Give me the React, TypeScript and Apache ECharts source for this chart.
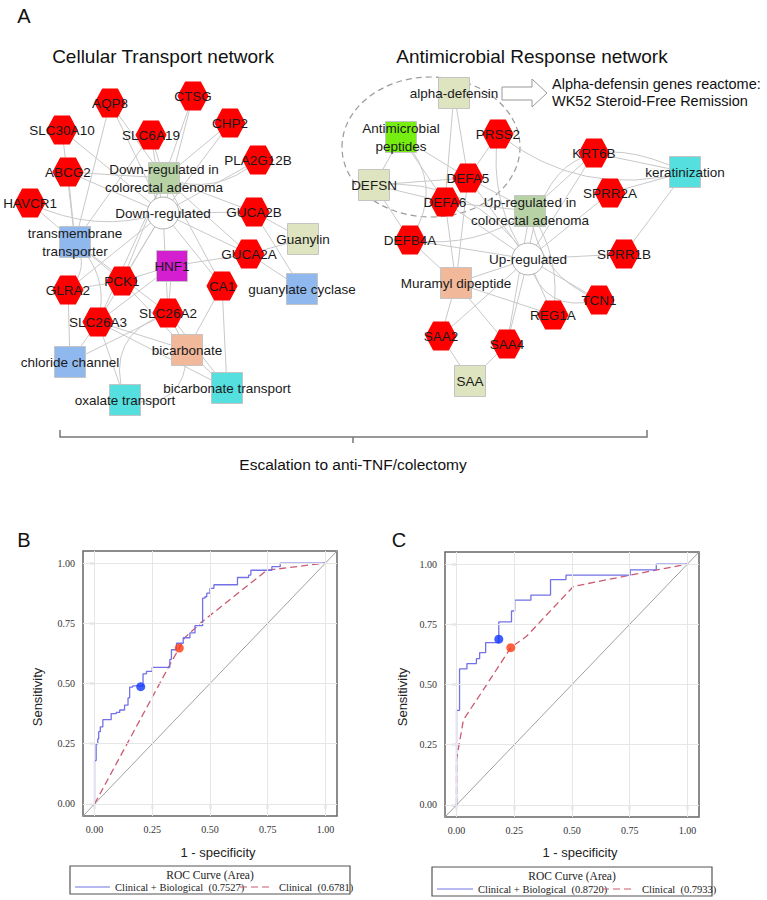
import React, { useEffect, useRef } from "react";
import * as echarts from "echarts";

// ---------- Panel A: networks ----------
const nodeNames = [
  // Cellular transport network
  "AQP8", "CTSG", "SLC30A10", "SLC6A19", "CHP2", "PLA2G12B", "ABCG2",
  "DownAdenoma", "HAVCR1", "Down", "GUCA2B", "Transmembrane", "Guanylin",
  "HNF1", "GUCA2A", "PCK1", "GLRA2", "CA1", "GuanylateCyclase", "SLC26A3",
  "SLC26A2", "Bicarbonate", "ChlorideChannel", "BicarbonateTransport", "Oxalate",
  // Antimicrobial response network
  "AlphaDefensin", "AMP", "PRSS2", "KRT6B", "Keratinization", "DEFSN", "DEFA5",
  "SPRR2A", "DEFA6", "UpAdenoma", "DEFB4A", "Up", "SPRR1B", "Muramyl", "TCN1",
  "REG1A", "SAA2", "SAA4", "SAA",
];
const nodeLabels = [
  "AQP8", "CTSG", "SLC30A10", "SLC6A19", "CHP2", "PLA2G12B", "ABCG2",
  "Down-regulated in\ncolorectal adenoma", "HAVCR1", "Down-regulated", "GUCA2B",
  "transmembrane\ntransporter", "Guanylin", "HNF1", "GUCA2A", "PCK1", "GLRA2", "CA1",
  "guanylate cyclase", "SLC26A3", "SLC26A2", "bicarbonate", "chloride channel",
  "bicarbonate transport", "oxalate transport",
  "alpha-defensin", "Antimicrobial\npeptides", "PRSS2", "KRT6B", "keratinization",
  "DEFSN", "DEFA5", "SPRR2A", "DEFA6", "Up-regulated in\ncolorectal adenoma", "DEFB4A",
  "Up-regulated", "SPRR1B", "Muramyl dipeptide", "TCN1", "REG1A", "SAA2", "SAA4", "SAA",
];
const nodeX = [
  110, 193, 62, 151, 230, 258, 68, 164, 30, 163, 254, 75, 303, 172, 249, 122, 68, 222,
  302, 98, 168, 187, 70, 227, 125,
  454, 401, 498, 594, 685, 374, 468, 610, 445, 530, 410, 528, 624, 456, 599, 553, 441,
  507, 470,
];
const nodeY = [
  103, 96, 130, 135, 123, 160, 172, 178, 203, 213, 212, 242, 239, 266, 254, 281, 290, 286,
  289, 322, 313, 350, 362, 388, 400,
  93, 137, 134, 153, 172, 185, 178, 193, 202, 211, 240, 259, 254, 283, 300, 315, 336,
  344, 381,
];
const nodeKind = [
  "gene", "gene", "gene", "gene", "gene", "gene", "gene", "adenoma", "gene", "hub", "gene",
  "function", "family", "tf", "gene", "gene", "gene", "gene", "function", "gene", "gene",
  "metabolite", "function", "process", "process",
  "family", "amp", "gene", "gene", "process", "family", "gene", "gene", "gene", "adenoma",
  "gene", "hub", "gene", "metabolite", "gene", "gene", "gene", "gene", "family",
];
// [source, target, curveness]
const edges: [string, string, number][] = [
  ["Down", "AQP8", 0], ["Down", "CTSG", 0], ["Down", "SLC6A19", 0], ["Down", "CHP2", 0],
  ["Down", "PLA2G12B", 0], ["Down", "GUCA2B", 0], ["Down", "GUCA2A", 0], ["Down", "CA1", 0],
  ["Down", "SLC26A2", 0], ["Down", "SLC26A3", 0], ["Down", "PCK1", 0], ["Down", "GLRA2", 0],
  ["Down", "ABCG2", 0], ["Down", "SLC30A10", 0], ["Down", "HAVCR1", 0.2],
  ["DownAdenoma", "AQP8", 0], ["DownAdenoma", "CTSG", 0], ["DownAdenoma", "SLC6A19", 0],
  ["DownAdenoma", "CHP2", 0], ["DownAdenoma", "ABCG2", 0], ["DownAdenoma", "GUCA2B", 0],
  ["DownAdenoma", "GUCA2A", 0], ["DownAdenoma", "SLC26A3", 0], ["DownAdenoma", "PCK1", 0],
  ["DownAdenoma", "CA1", 0], ["DownAdenoma", "PLA2G12B", -0.3],
  ["Transmembrane", "SLC30A10", 0], ["Transmembrane", "ABCG2", 0], ["Transmembrane", "HAVCR1", 0],
  ["Transmembrane", "AQP8", 0], ["Transmembrane", "SLC6A19", 0], ["Transmembrane", "SLC26A3", 0.3],
  ["Transmembrane", "SLC26A2", 0], ["Transmembrane", "PCK1", 0], ["Transmembrane", "GLRA2", 0.4],
  ["HNF1", "PCK1", 0], ["HNF1", "GUCA2A", 0], ["HNF1", "SLC26A2", 0], ["PCK1", "GLRA2", 0],
  ["HNF1", "SLC26A3", 0],
  ["Guanylin", "GUCA2B", 0], ["Guanylin", "GUCA2A", 0],
  ["GuanylateCyclase", "GUCA2B", 0], ["GuanylateCyclase", "GUCA2A", 0],
  ["Bicarbonate", "SLC26A3", 0], ["Bicarbonate", "SLC26A2", 0], ["Bicarbonate", "CA1", 0],
  ["Bicarbonate", "PCK1", 0],
  ["BicarbonateTransport", "CA1", 0], ["BicarbonateTransport", "Bicarbonate", 0],
  ["BicarbonateTransport", "SLC26A3", 0], ["BicarbonateTransport", "SLC26A2", 0],
  ["ChlorideChannel", "GLRA2", 0], ["ChlorideChannel", "SLC26A3", 0], ["ChlorideChannel", "SLC26A2", 0],
  ["Oxalate", "SLC26A3", 0], ["Oxalate", "SLC26A2", 0.5], ["Oxalate", "Bicarbonate", -0.6],
  ["Up", "DEFA5", 0], ["Up", "DEFA6", 0], ["Up", "DEFB4A", 0], ["Up", "PRSS2", 0.2],
  ["Up", "KRT6B", 0], ["Up", "SPRR2A", 0], ["Up", "SPRR1B", 0], ["Up", "TCN1", 0],
  ["Up", "REG1A", 0], ["Up", "SAA2", 0], ["Up", "SAA4", 0], ["Up", "Muramyl", 0],
  ["Up", "DEFSN", -0.3], ["Up", "TCN1", -0.5],
  ["UpAdenoma", "DEFA5", 0], ["UpAdenoma", "DEFA6", 0], ["UpAdenoma", "KRT6B", 0],
  ["UpAdenoma", "REG1A", 0.2], ["UpAdenoma", "TCN1", -0.3], ["UpAdenoma", "SAA4", 0],
  ["UpAdenoma", "DEFB4A", 0.2],
  ["AlphaDefensin", "DEFA5", 0], ["AlphaDefensin", "DEFA6", 0],
  ["AMP", "DEFA5", 0], ["AMP", "DEFA6", 0], ["AMP", "DEFSN", 0], ["AMP", "DEFB4A", 0.4],
  ["DEFSN", "DEFA5", 0], ["DEFSN", "DEFA6", 0], ["DEFSN", "DEFB4A", 0],
  ["Keratinization", "KRT6B", 0], ["Keratinization", "SPRR2A", 0], ["Keratinization", "SPRR1B", 0],
  ["PRSS2", "Keratinization", -0.25], ["Up", "Keratinization", 0.7],
  ["Muramyl", "DEFA5", 0], ["Muramyl", "DEFA6", 0], ["Muramyl", "DEFB4A", 0],
  ["Muramyl", "SAA2", 0], ["Muramyl", "SAA4", 0], ["Muramyl", "REG1A", 0],
  ["SAA", "SAA2", 0], ["SAA", "SAA4", 0], ["PRSS2", "DEFA5", 0],
];

// ---------- Panels B & C: ROC curves ----------
const rocTicks = [0, 0.25, 0.5, 0.75, 1.0];
const bBlueFpr = [0, 0, 0.007, 0.014, 0.018, 0.025, 0.036, 0.072, 0.094, 0.109, 0.13, 0.145, 0.152,
  0.165, 0.21, 0.225, 0.25, 0.326, 0.333, 0.355, 0.384, 0.413, 0.435, 0.468, 0.478, 0.486, 0.5,
  0.517, 0.619, 0.667, 0.677, 0.768, 0.804, 1];
const bBlueTpr = [0, 0.18, 0.25, 0.27, 0.3, 0.32, 0.35, 0.375, 0.38, 0.39, 0.41, 0.44, 0.485,
  0.49, 0.54, 0.55, 0.567, 0.6, 0.64, 0.667, 0.69, 0.71, 0.74, 0.854, 0.86, 0.875, 0.895,
  0.91, 0.94, 0.95, 0.97, 0.985, 1.0, 1.0];
const bRedFpr = [0, 0.33, 0.367, 0.39, 0.464, 0.746, 1];
const bRedTpr = [0, 0.585, 0.647, 0.69, 0.755, 0.97, 1];
const bBluePoint = [0.2, 0.487];
const bRedPoint = [0.367, 0.647];
const bLegend = ["Clinical + Biological  (0.7527)", "Clinical  (0.6781)"];

const cBlueFpr = [0, 0, 0.013, 0.045, 0.086, 0.1, 0.126, 0.183, 0.238, 0.252, 0.322, 0.407,
  0.474, 0.752, 0.865, 1];
const cBlueTpr = [0, 0.393, 0.565, 0.587, 0.607, 0.632, 0.674, 0.76, 0.805, 0.85, 0.871,
  0.935, 0.954, 0.976, 1.0, 1.0];
const cRedFpr = [0, 0, 0.03, 0.107, 0.235, 0.303, 0.506, 0.752, 1];
const cRedTpr = [0, 0.19, 0.354, 0.465, 0.653, 0.7, 0.907, 0.954, 1];
const cBluePoint = [0.183, 0.688];
const cRedPoint = [0.235, 0.653];
const cLegend = ["Clinical + Biological  (0.8720)", "Clinical  (0.7933)"];

const SANS = "Liberation Sans, Arial, sans-serif";
const SERIF = "Liberation Serif, Times New Roman, serif";
const HEX = "path://M0,50 L25,6 L75,6 L100,50 L75,94 L25,94 Z";
const BLUE = "#7272e6";
const RED = "#cc5a70";

const kindStyle: Record<string, any> = {
  gene: { symbol: HEX, size: [30, 28], color: "#ff0000", border: "#ff0000" },
  hub: { symbol: "circle", size: 32, color: "#ffffff", border: "#b5b5b5" },
  adenoma: { symbol: "rect", size: 31, color: "#b7d3a6", border: "#c4c4c4" },
  function: { symbol: "rect", size: 31, color: "#8fb8ee", border: "#c4c4c4" },
  family: { symbol: "rect", size: 31, color: "#dde4bf", border: "#c4c4c4" },
  tf: { symbol: "rect", size: 31, color: "#d41fd0", border: "#c4c4c4" },
  metabolite: { symbol: "rect", size: 31, color: "#f2b89a", border: "#c4c4c4" },
  process: { symbol: "rect", size: 31, color: "#55dfdf", border: "#c4c4c4" },
  amp: { symbol: "rect", size: 31, color: "#77ee11", border: "#c4c4c4" },
};

const zip = (a: number[], b: number[]) => a.map((v, i) => [v, b[i]]);

function rocAxes(grid: number) {
  return {
    gridIndex: grid,
    type: "value",
    min: -0.05,
    max: 1.05,
    axisLine: { show: false },
    axisTick: { show: true, customValues: rocTicks, length: 5, lineStyle: { color: "#555", width: 1.2 } },
    axisLabel: {
      customValues: rocTicks,
      formatter: (v: number) => v.toFixed(2),
      fontFamily: SERIF,
      fontSize: 10,
      color: "#333",
      margin: 8,
    },
    splitLine: { show: false },
  };
}

function rocSeries(axis: number, blueF: number[], blueT: number[], redF: number[], redT: number[], bp: number[], rp: number[]) {
  return [
    {
      type: "line",
      xAxisIndex: axis,
      yAxisIndex: axis,
      data: [[-0.05, -0.05], [1.05, 1.05]],
      symbol: "none",
      lineStyle: { color: "#a0a0a0", width: 1 },
      z: 1,
      silent: true,
      markLine: {
        silent: true,
        symbol: ["none", "none"],
        label: { show: false },
        lineStyle: { color: "#e6e6e6", type: "solid", width: 1 },
        data: [...rocTicks.map((t) => ({ xAxis: t })), ...rocTicks.map((t) => ({ yAxis: t }))],
      },
    },
    {
      type: "line",
      xAxisIndex: axis,
      yAxisIndex: axis,
      data: zip(redF, redT),
      symbol: "none",
      lineStyle: { color: RED, width: 1.3, type: [7, 4] },
      z: 3,
    },
    {
      type: "line",
      xAxisIndex: axis,
      yAxisIndex: axis,
      data: zip(blueF, blueT),
      step: "end",
      symbol: "none",
      lineStyle: { color: BLUE, width: 1.3 },
      z: 4,
    },
    {
      type: "scatter",
      xAxisIndex: axis,
      yAxisIndex: axis,
      data: [bp],
      symbolSize: 9,
      itemStyle: { color: "#1034ff" },
      z: 5,
    },
    {
      type: "scatter",
      xAxisIndex: axis,
      yAxisIndex: axis,
      data: [rp],
      symbolSize: 9,
      itemStyle: { color: "#ff3a12" },
      z: 5,
    },
  ];
}

function text(x: number, y: number, t: string, size: number, extra: any = {}, rotation = 0) {
  return {
    type: "text",
    x,
    y,
    rotation,
    silent: true,
    style: {
      text: t,
      fontSize: size,
      fontFamily: SANS,
      fill: "#111",
      align: "center",
      verticalAlign: "middle",
      ...extra,
    },
  };
}

function legend(x: number, y: number, w: number, h: number, cx: number, rowY: number, l: number[], labels: string[]) {
  return [
    { type: "rect", shape: { x, y, width: w, height: h }, style: { fill: "#fff", stroke: "#555", lineWidth: 1.2 }, silent: true },
    text(cx, y + 9, "ROC Curve (Area)", 11.5, { fontFamily: SERIF, fill: "#222" }),
    { type: "line", shape: { x1: l[0], y1: rowY, x2: l[1], y2: rowY }, style: { stroke: BLUE, lineWidth: 1.2 }, silent: true },
    text(l[2], rowY, labels[0], 10.5, { fontFamily: SERIF, fill: "#222", align: "left" }),
    { type: "line", shape: { x1: l[3], y1: rowY, x2: l[4], y2: rowY }, style: { stroke: RED, lineWidth: 1.2, lineDash: [7, 4] }, silent: true },
    text(l[5], rowY, labels[1], 10.5, { fontFamily: SERIF, fill: "#222", align: "left" }),
  ];
}

export default function App() {
  const ref = useRef<HTMLDivElement>(null);
  useEffect(() => {
    if (!ref.current) return;
    const chart = echarts.init(ref.current, null, { renderer: "svg" });

    const graphData = nodeNames.map((n, i) => {
      const k = kindStyle[nodeKind[i]];
      return {
        name: n,
        value: [nodeX[i], nodeY[i]],
        symbol: k.symbol,
        symbolSize: k.size,
        itemStyle: { color: k.color, borderColor: k.border, borderWidth: 1 },
        label: { formatter: nodeLabels[i] },
      };
    });
    const graphLinks = edges.map(([s, t, c]) => ({ source: s, target: t, lineStyle: { curveness: c } }));

    const option: any = {
      animation: false,
      backgroundColor: "#ffffff",
      grid: [
        { left: 0, top: 0, width: 767, height: 900, show: false },
        { left: 83, top: 551, width: 254, height: 265, show: true, borderColor: "#666", borderWidth: 1.5 },
        { left: 445, top: 552, width: 254, height: 265, show: true, borderColor: "#666", borderWidth: 1.5 },
      ],
      xAxis: [
        { gridIndex: 0, type: "value", min: 0, max: 767, show: false },
        rocAxes(1),
        rocAxes(2),
      ],
      yAxis: [
        { gridIndex: 0, type: "value", min: 0, max: 900, inverse: true, show: false },
        rocAxes(1),
        rocAxes(2),
      ],
      series: [
        {
          type: "graph",
          coordinateSystem: "cartesian2d",
          xAxisIndex: 0,
          yAxisIndex: 0,
          layout: "none",
          data: graphData,
          links: graphLinks,
          lineStyle: { color: "#c9c9c9", width: 1, opacity: 1 },
          label: {
            show: true,
            position: "inside",
            fontSize: 13.5,
            fontFamily: SANS,
            color: "#1a1a1a",
            lineHeight: 18,
          },
          emphasis: { disabled: true },
          silent: true,
          z: 2,
        },
        ...rocSeries(1, bBlueFpr, bBlueTpr, bRedFpr, bRedTpr, bBluePoint, bRedPoint),
        ...rocSeries(2, cBlueFpr, cBlueTpr, cRedFpr, cRedTpr, cBluePoint, cRedPoint),
      ],
      graphic: [
        text(24, 16, "A", 20),
        text(163, 56, "Cellular Transport network", 19),
        text(532, 56, "Antimicrobial Response network", 19),
        {
          type: "ellipse",
          shape: { cx: 431, cy: 147, rx: 89, ry: 70 },
          style: { fill: "none", stroke: "#9a9a9a", lineWidth: 1.2, lineDash: [6, 4] },
          silent: true,
        },
        {
          type: "polygon",
          shape: { points: [[502, 87], [532, 87], [532, 79], [547, 93], [532, 107], [532, 100], [502, 100]] },
          style: { fill: "#fff", stroke: "#999", lineWidth: 1 },
          silent: true,
        },
        text(552, 84, "Alpha-defensin genes reactome:", 14.5, { align: "left" }),
        text(552, 101, "WK52 Steroid-Free Remission", 14.5, { align: "left" }),
        {
          type: "polyline",
          shape: { points: [[60, 430], [60, 437], [647, 437], [647, 430]] },
          style: { stroke: "#777", lineWidth: 1.5, fill: "none" },
          silent: true,
        },
        {
          type: "line",
          shape: { x1: 353, y1: 437, x2: 353, y2: 443 },
          style: { stroke: "#777", lineWidth: 1.5 },
          silent: true,
        },
        text(353, 464, "Escalation to anti-TNF/colectomy", 15.5),
        text(24, 540, "B", 20),
        text(399, 540, "C", 20),
        text(37, 697, "Sensitivity", 13, { fill: "#222" }, Math.PI / 2),
        text(402, 697, "Sensitivity", 13, { fill: "#222" }, Math.PI / 2),
        text(218, 852, "1 - specificity", 13, { fill: "#222" }),
        text(580, 852, "1 - specificity", 13, { fill: "#222" }),
        ...legend(70, 866, 280, 28, 210, 887, [75, 110, 115, 240, 272, 279], bLegend),
        ...legend(432, 867, 280, 29, 572, 889, [437, 473, 478, 602, 635, 642], cLegend),
      ],
    };

    chart.setOption(option);
    return () => chart.dispose();
  }, []);

  return (
    <div
      ref={ref}
      style={{ position: "absolute", left: 0, top: 0, width: 767, height: 900 }}
    />
  );
}
